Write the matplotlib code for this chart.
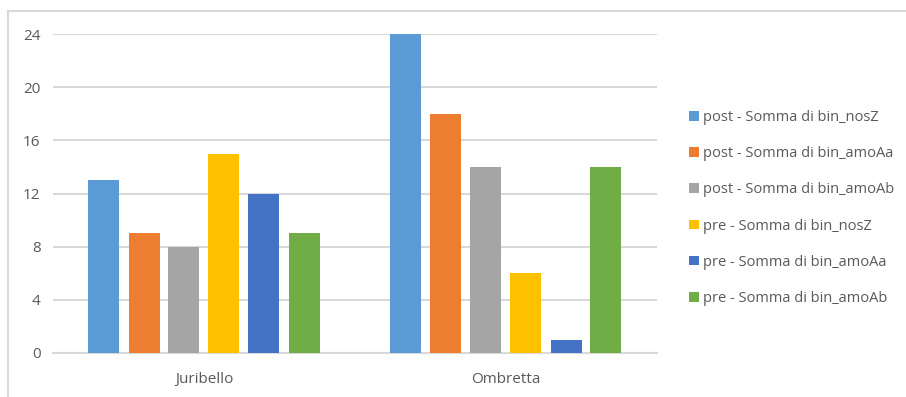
import matplotlib
matplotlib.use('Agg')
import matplotlib.pyplot as plt
import numpy as np
from matplotlib.lines import Line2D

categories = ['Juribello', 'Ombretta']
series = ['post - Somma di bin_nosZ', 'post - Somma di bin_amoAa', 'post - Somma di bin_amoAb',
          'pre - Somma di bin_nosZ', 'pre - Somma di bin_amoAa', 'pre - Somma di bin_amoAb']
values = [
    [13, 24],
    [9, 18],
    [8, 14],
    [15, 6],
    [12, 1],
    [9, 14],
]
colors = ['#5b9bd5', '#ed7d31', '#a5a5a5', '#ffc000', '#4472c4', '#70ad47']

plt.rcParams['font.family'] = ['Open Sans', 'DejaVu Sans']

fig = plt.figure(figsize=(9.06, 3.97), dpi=100)
ax = fig.add_axes([53 / 906, 44 / 397, 604 / 906, 319 / 397])

x = np.arange(len(categories))
step = 40 / 302
width = 31 / 302
handles = []
for i, (name, vals) in enumerate(zip(series, values)):
    offset = (i - 2.5) * step
    b = ax.bar(x + offset, vals, width=width, color=colors[i], label=name, zorder=3)
    handles.append(b)

ax.set_xlim(-0.5, 1.5)
ax.set_ylim(0, 24)
ax.set_yticks(range(0, 25, 4))
ax.set_xticks(x)
ax.set_xticklabels(categories)
ax.grid(axis='y', color='#d9d9d9', linewidth=1.5, zorder=0)
for s in ['top', 'right', 'left']:
    ax.spines[s].set_visible(False)
ax.spines['bottom'].set_color('#d9d9d9')
ax.spines['bottom'].set_linewidth(1.5)
ax.tick_params(axis='both', length=0, colors='#595959', labelsize=11)
ax.tick_params(axis='y', pad=9)
ax.tick_params(axis='x', pad=14)

leg = fig.legend(handles=handles, labels=series, loc='center left',
                 bbox_to_anchor=(676 / 906, (397 - 208) / 397), frameon=False,
                 fontsize=10.5, labelcolor='#595959', handlelength=0.65, handleheight=0.65,
                 handletextpad=0.3, labelspacing=1.45)

# outer chart border (partially visible)
fig.add_artist(Line2D([7.5 / 906, 7.5 / 906], [0, 386.5 / 397], color='#d9d9d9', linewidth=1.5))
fig.add_artist(Line2D([7.5 / 906, 1], [386.5 / 397, 386.5 / 397], color='#d9d9d9', linewidth=1.5))

fig.savefig('out.png', dpi=100)
